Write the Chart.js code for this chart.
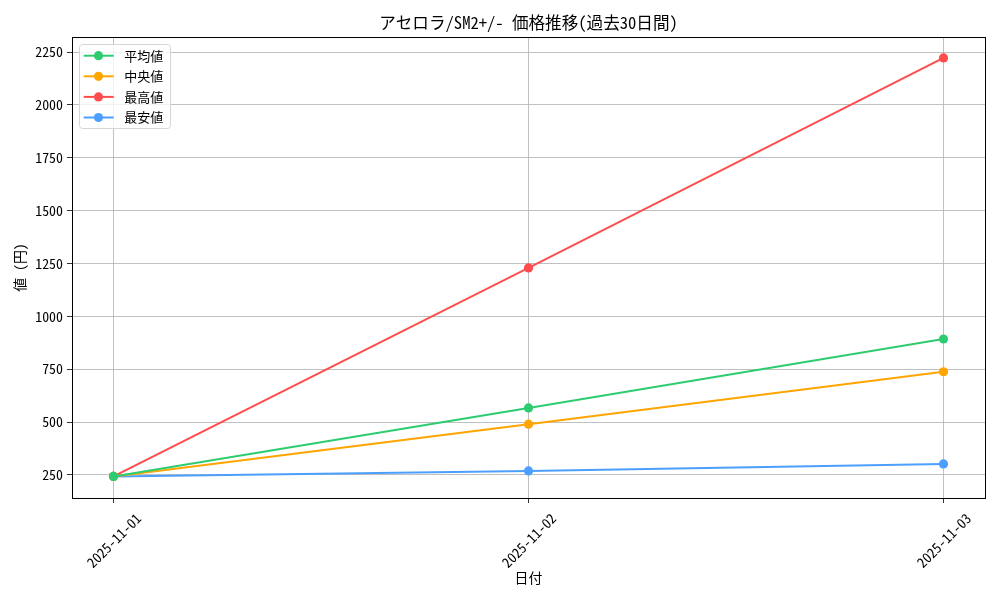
<!DOCTYPE html>
<html lang="ja">
<head>
<meta charset="UTF-8">
<title>アセロラ/SM2+/- 価格推移</title>
<script src="https://cdn.jsdelivr.net/npm/chart.js"></script>
<style>
  html, body { margin: 0; padding: 0; background: #fff; }
  #wrap { width: 1000px; height: 600px; }
</style>
</head>
<body>
<div id="wrap"><canvas id="chart" width="1000" height="600"></canvas></div>
<script>
const chartTitle = 'アセロラ/SM2+/- 価格推移(過去30日間)';
const dates = ['2025-11-01', '2025-11-02', '2025-11-03'];
const avgPrice = [243, 567, 893];
const medianPrice = [243, 490, 738];
const maxPrice = [243, 1229, 2222];
const minPrice = [243, 269, 302];
const yTicks = [250, 500, 750, 1000, 1250, 1500, 1750, 2000, 2250];

const FONT = "'Noto Sans Mono CJK JP', 'Noto Sans CJK JP', 'DejaVu Sans', sans-serif";

function pts(arr) {
    return arr.map((v, i) => ({ x: i, y: v }));
}

function ds(label, data, color) {
    return {
        label: label,
        data: pts(data),
        borderColor: color,
        backgroundColor: color,
        borderWidth: 2,
        pointRadius: 4.6,
        pointHoverRadius: 4.6,
        pointBorderWidth: 0,
        tension: 0
    };
}

// title centred over the plot, black frame, legend box inside (upper left)
const frameAndLegend = {
    id: 'frameAndLegend',
    afterDraw(chart) {
        const ctx = chart.ctx;
        const area = chart.chartArea;
        ctx.save();
        ctx.fillStyle = '#000';
        ctx.font = '16.6px ' + FONT;
        ctx.textAlign = 'center';
        ctx.textBaseline = 'middle';
        ctx.fillText(chartTitle, (area.left + area.right) / 2, 23);

        ctx.strokeStyle = '#000';
        ctx.lineWidth = 1;
        ctx.strokeRect(Math.round(area.left) + 0.5, Math.round(area.top) + 0.5,
            Math.round(area.right - area.left), Math.round(area.bottom - area.top));

        const x0 = area.left + 7, y0 = area.top + 7;
        const rowH = 20.6, w = 91, h = 84;
        ctx.fillStyle = 'rgba(255,255,255,0.8)';
        ctx.strokeStyle = '#d6d6d6';
        ctx.beginPath();
        ctx.roundRect(x0 + 0.5, y0 + 0.5, w, h, 3);
        ctx.fill();
        ctx.stroke();
        ctx.font = '13px ' + FONT;
        ctx.textAlign = 'left';
        chart.data.datasets.forEach((d, i) => {
            const cy = y0 + 11.7 + i * rowH;
            ctx.strokeStyle = d.borderColor;
            ctx.lineWidth = 2;
            ctx.beginPath();
            ctx.moveTo(x0 + 4.7, cy);
            ctx.lineTo(x0 + 34.7, cy);
            ctx.stroke();
            ctx.fillStyle = d.borderColor;
            ctx.beginPath();
            ctx.arc(x0 + 19.5, cy, 4.6, 0, Math.PI * 2);
            ctx.fill();
            ctx.fillStyle = '#000';
            ctx.fillText(d.label, x0 + 45.3, cy);
        });
        ctx.restore();
    }
};

new Chart(document.getElementById('chart'), {
    type: 'line',
    data: {
        datasets: [
            ds('平均値', avgPrice, '#2ecc71'),
            ds('中央値', medianPrice, '#ffa500'),
            ds('最高値', maxPrice, '#ff4d4d'),
            ds('最安値', minPrice, '#4d9fff')
        ]
    },
    options: {
        responsive: false,
        animation: false,
        layout: { padding: { left: 0, right: 15, top: 37, bottom: 0 } },
        plugins: {
            legend: { display: false },
            tooltip: { enabled: false },
            title: { display: false }
        },
        scales: {
            x: {
                type: 'linear',
                min: -0.1,
                max: 2.1,
                afterBuildTicks(axis) {
                    axis.ticks = dates.map((d, i) => ({ value: i }));
                },
                afterFit(axis) {
                    axis.height = 102;
                },
                ticks: {
                    callback: (v) => dates[v],
                    color: '#000',
                    font: { family: FONT, size: 13.9 },
                    minRotation: 45,
                    maxRotation: 45,
                    labelOffset: 25,
                    padding: 7
                },
                grid: {
                    color: '#b0b0b0',
                    lineWidth: 0.8,
                    tickColor: '#000',
                    tickLength: 5
                },
                border: { color: '#000', width: 1 },
                title: {
                    display: true,
                    text: '日付',
                    color: '#000',
                    font: { family: FONT, size: 13.9, lineHeight: 1.2 },
                    padding: { top: 0, bottom: 13.6 }
                }
            },
            y: {
                min: 141,
                max: 2321,
                afterBuildTicks(axis) {
                    axis.ticks = yTicks.map(v => ({ value: v }));
                },
                afterFit(axis) {
                    axis.width = 72;
                },
                ticks: {
                    callback: (v) => String(v),
                    color: '#000',
                    font: { family: FONT, size: 13.9 },
                    padding: 4
                },
                grid: {
                    color: '#b0b0b0',
                    lineWidth: 0.8,
                    tickColor: '#000',
                    tickLength: 5
                },
                border: { color: '#000', width: 1 },
                title: {
                    display: true,
                    text: '値 (円)',
                    color: '#000',
                    font: { family: FONT, size: 13.9, lineHeight: 1.2 },
                    padding: { top: 11.6, bottom: 0 }
                }
            }
        }
    },
    plugins: [frameAndLegend]
});
</script>
</body>
</html>
